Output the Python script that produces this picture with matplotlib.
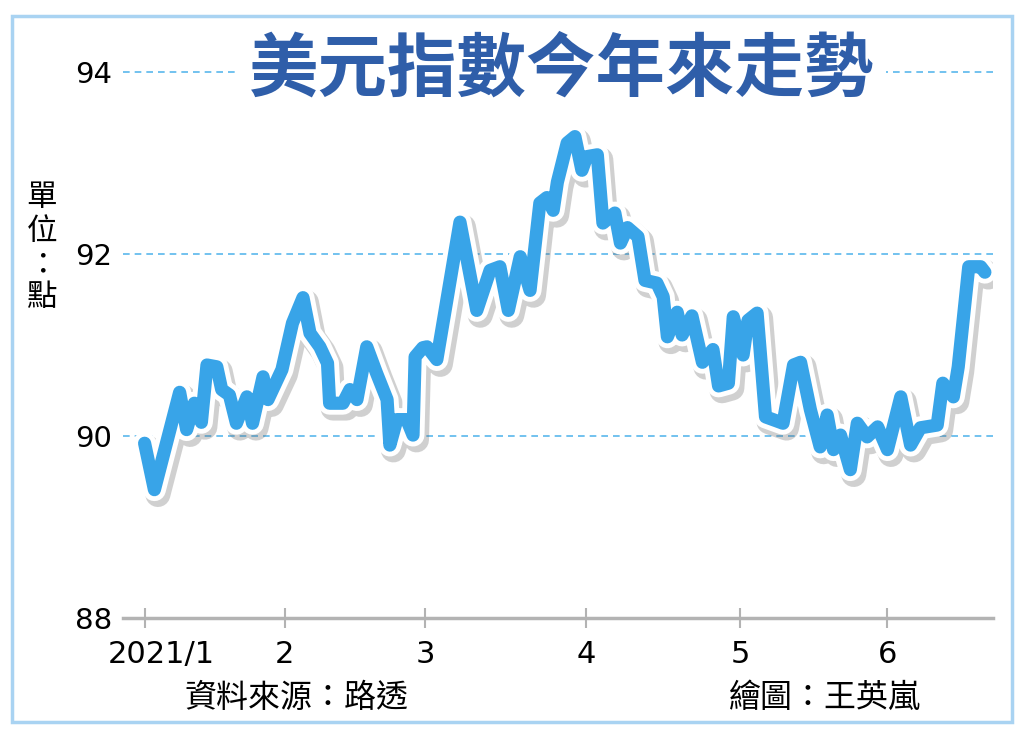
import matplotlib
matplotlib.use("Agg")
import matplotlib.pyplot as plt
import matplotlib.patheffects as pe
import matplotlib.transforms as mtransforms
from matplotlib.patches import Rectangle

plt.rcParams['font.family'] = ['Noto Sans CJK TC', 'DejaVu Sans']

# 美元指數 2021/1 ~ 6 (x = 交易日序號, 由圖上讀出)
day = [0.0, 1.4, 5.0, 6.0, 7.1, 8.1, 8.9, 10.3, 11.0, 12.1, 13.1, 14.6, 15.4,
       16.9, 17.6, 19.6, 21.1, 22.6, 23.6, 25.0, 26.1, 26.4, 28.3, 29.3, 30.3,
       31.7, 33.1, 34.6, 35.0, 36.0, 37.4, 38.3, 38.6, 39.7, 40.3, 41.7, 45.0,
       47.4, 49.3, 50.7, 51.9, 53.6, 55.0, 56.4, 57.4, 58.3, 58.9, 60.3, 61.4,
       62.4, 63.1, 64.6, 65.4, 67.1, 67.9, 68.9, 70.4, 71.4, 73.1, 74.0, 74.6,
       76.0, 76.7, 78.1, 79.6, 81.1, 81.9, 83.3, 84.0, 85.4, 86.1, 87.4, 88.6,
       91.1, 92.6, 93.6, 95.0, 96.4, 97.4, 98.3, 99.3, 100.7, 101.7, 103.1,
       104.6, 106.0, 107.9, 109.3, 110.7, 113.1, 113.9, 115.4, 116.1, 117.6,
       119.3, 119.9]
dxy = [89.92, 89.41, 90.48, 90.07, 90.36, 90.15, 90.78, 90.76, 90.51, 90.45,
       90.14, 90.43, 90.14, 90.65, 90.40, 90.73, 91.24, 91.52, 91.13, 90.98,
       90.80, 90.36, 90.36, 90.51, 90.40, 90.98, 90.69, 90.40, 89.90, 90.18,
       90.18, 90.01, 90.87, 90.97, 90.98, 90.84, 92.35, 91.38, 91.82, 91.86,
       91.38, 91.97, 91.60, 92.56, 92.62, 92.48, 92.79, 93.22, 93.29, 92.92,
       93.07, 93.09, 92.34, 92.45, 92.12, 92.29, 92.19, 91.71, 91.68, 91.53,
       91.09, 91.36, 91.11, 91.32, 90.81, 90.95, 90.55, 90.58, 91.31, 90.89,
       91.27, 91.35, 90.21, 90.14, 90.78, 90.81, 90.29, 89.88, 90.23, 89.85,
       90.01, 89.63, 90.14, 89.99, 90.10, 89.85, 90.43, 89.90, 90.09, 90.12,
       90.58, 90.43, 90.76, 91.86, 91.86, 91.80]

month_pos = [0, 20, 40, 63, 85, 106]
month_labels = ['2021/1', '2', '3', '4', '5', '6']
y_ticks = [88, 90, 92, 94]

title = '美元指數今年來走勢'
source = '資料來源：路透'
artist = '繪圖：王英嵐'
unit = '單\n位\n：\n點'

line_blue = '#38a4e8'
grid_blue = '#5ab8ec'
title_blue = '#2f5ea9'

fig = plt.figure(figsize=(10.24, 7.4), dpi=100)
fig.patch.set_facecolor('white')

# 外框
fig.patches.append(Rectangle((0.012, 0.024), 0.976, 0.955, transform=fig.transFigure,
                             fill=False, edgecolor='#a9d3f2', linewidth=2.5))

ax = fig.add_axes([0.120, 0.1649, 0.850, 0.7378])
ax.set_xlim(-3.1, 121.1)
ax.set_ylim(88, 94)

for yv in [90, 92, 94]:
    ax.axhline(yv, color=grid_blue, lw=1.2, ls=(0, (4, 3)), zorder=1, clip_on=False)

ax.plot(day, dxy, color=line_blue, lw=9.5, solid_joinstyle='round',
        solid_capstyle='round', zorder=3,
        path_effects=[pe.SimpleLineShadow(offset=(2.5, -3.5), shadow_color='#666666',
                                          alpha=0.3, linewidth=18),
                      pe.Stroke(linewidth=16.5, foreground='white'),
                      pe.Normal()])

for s in ['top', 'right', 'left']:
    ax.spines[s].set_visible(False)
ax.spines['bottom'].set_color('#b3b3b3')
ax.spines['bottom'].set_linewidth(2.5)

ax.set_yticks(y_ticks)
ax.set_yticklabels([str(v) for v in y_ticks], fontsize=21, family='DejaVu Sans')
ax.tick_params(axis='y', length=0, pad=8)
ax.set_xticks(month_pos)
ax.set_xticklabels(month_labels, fontsize=22, family='DejaVu Sans')
ax.tick_params(axis='x', direction='inout', length=14, width=1.5, color='#b3b3b3', pad=9)

# 第一個月份標籤略為右移
first = ax.get_xticklabels()[0]
first.set_transform(first.get_transform() +
                    mtransforms.ScaledTranslation(0.17, 0, fig.dpi_scale_trans))

# 標題
fig.text(0.549, 0.905, title, fontsize=50, fontweight='bold', color=title_blue,
         ha='center', va='center',
         bbox=dict(facecolor='white', edgecolor='none', pad=8))

fig.text(0.041, 0.665, unit, fontsize=22, ha='center', va='center', linespacing=1.1)
fig.text(0.290, 0.057, source, fontsize=23, ha='center', va='center')
fig.text(0.806, 0.057, artist, fontsize=23, ha='center', va='center')

fig.savefig('out.png', dpi=100)
